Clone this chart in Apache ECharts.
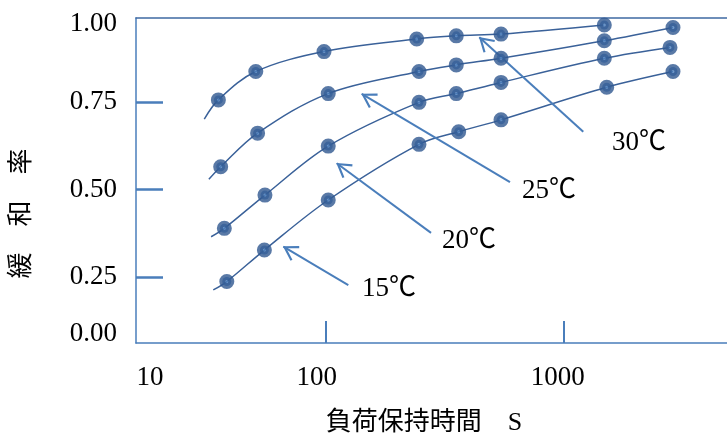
<!DOCTYPE html>
<html><head><meta charset="utf-8">
<script src="https://cdn.jsdelivr.net/npm/echarts@6/dist/echarts.min.js"></script>
<style>html,body{margin:0;padding:0;background:#fff}#c{width:727px;height:439px}</style>
</head><body><div id="c"></div>
<script>
// ---- data ----
const seriesNames = ['30℃', '25℃', '20℃', '15℃'];
const x30 = [35.3, 50.7, 98.1, 240.5, 352.7, 543.7, 1477];
const y30 = [0.756, 0.837, 0.894, 0.930, 0.939, 0.944, 0.970];
const x25 = [36.1, 51.6, 102.2, 245.9, 352.7, 543.7, 1477, 2871];
const y25 = [0.565, 0.661, 0.774, 0.837, 0.856, 0.875, 0.925, 0.963];
const x20 = [37.4, 55.4, 102.2, 245.9, 352.7, 543.7, 1477, 2789];
const y20 = [0.389, 0.484, 0.624, 0.749, 0.774, 0.806, 0.875, 0.906];
const x15 = [38.3, 55.1, 102.2, 245.9, 361.0, 543.7, 1512, 2871];
const y15 = [0.237, 0.327, 0.470, 0.629, 0.665, 0.699, 0.792, 0.837];
// where each fitted curve begins (left of first point)
const curveStartX = [30.8, 32.2, 32.9, 33.6];
const curveStartY = [0.701, 0.529, 0.365, 0.213];
// annotation arrows (tail -> tip) and label anchors, in data units
const arrowTailX = [1205, 593, 276.3, 124.1];
const arrowTailY = [0.665, 0.521, 0.376, 0.227];
const arrowTipX = [440.7, 141.3, 110.9, 66.2];
const arrowTipY = [0.935, 0.773, 0.575, 0.337];
const labelX = [1591, 666, 307.2, 141.7];
const labelY = [0.633, 0.496, 0.353, 0.217];
// axes
const xMin = 15.91, xMax = 4841;
const xTickValues = [100, 1000];
const xLabelTexts = ['10', '100', '1000'];
const xLabelAt = [18.2, 91.4, 941];
const yMin = 0.0614, yMax = 0.99;
const yTickValues = [0.25, 0.5, 0.75];
const yLabelTexts = ['0.00', '0.25', '0.50', '0.75', '1.00'];
const yLabelAt = [0.087, 0.25, 0.5, 0.75, 0.973];
const xName = '負荷保持時間　S';
const yName = '緩　和　率';

// ---- build ----
const L = v => Math.log10(v);
const xs = [x30, x25, x20, x15];
const ys = [y30, y25, y20, y15];
const serif = "'Liberation Serif', 'Noto Sans CJK JP', serif";
const cjk = "'Liberation Serif', 'Noto Sans CJK JP', sans-serif";
const axisColor = '#4a7ebb';
const lineColor = '#3a6199';
const nearestText = (v, at, texts) => {
  let best = 0;
  at.forEach((a, i) => { if (Math.abs(a - v) < Math.abs(at[best] - v)) best = i; });
  return texts[best];
};

const series = [];
seriesNames.forEach((name, k) => {
  const pts = xs[k].map((x, i) => [L(x), ys[k][i]]);
  series.push({
    type: 'line', name: name + ' curve', smooth: 0.35, showSymbol: false, silent: true,
    data: [[L(curveStartX[k]), curveStartY[k]]].concat(pts),
    lineStyle: { color: lineColor, width: 1.5 }, z: 2
  });
  series.push({
    type: 'scatter', name: name, data: pts, symbol: 'circle', symbolSize: 9,
    itemStyle: { color: '#4f81bd', borderColor: '#2f5890', borderWidth: 6 }, z: 5
  });
});
const chevron = 'path://M50 0 L100 86 L89 93 L50 25 L11 93 L0 86 Z';
series.push({
  type: 'line', name: 'annotations', data: [], silent: true,
  markLine: {
    silent: true, animation: false,
    symbol: ['none', chevron], symbolSize: [17, 15],
    symbolOffset: [[0, 0], [0, 7]],
    lineStyle: { color: axisColor, width: 2, type: 'solid' },
    label: { show: false },
    data: seriesNames.map((n, k) => [
      { coord: [L(arrowTailX[k]), arrowTailY[k]] },
      { coord: [L(arrowTipX[k]), arrowTipY[k]] }
    ])
  },
  markPoint: {
    silent: true, animation: false, symbol: 'circle', symbolSize: 0,
    label: { show: true, position: 'right', distance: 0, color: '#000', fontFamily: serif, fontSize: 27,
      formatter: p => p.name },
    data: seriesNames.map((n, k) => ({ name: n, coord: [L(labelX[k]), labelY[k]] }))
  }
});

const chart = echarts.init(document.getElementById('c'), null, { renderer: 'canvas' });
chart.setOption({
  animation: false,
  backgroundColor: '#fff',
  grid: { left: 136, right: 0, top: 18, bottom: 96, containLabel: false, outerBoundsMode: 'none' },
  xAxis: [{
    type: 'value', min: L(xMin), max: L(xMax), position: 'bottom',
    axisLine: { show: true, lineStyle: { color: axisColor, width: 1.5 } },
    axisTick: { show: true, inside: true, length: 22, customValues: xTickValues.map(L),
      lineStyle: { color: axisColor, width: 2 } },
    axisLabel: { show: true, margin: 21, color: '#000', fontFamily: serif, fontSize: 27,
      customValues: xLabelAt.map(L), formatter: v => nearestText(v, xLabelAt.map(L), xLabelTexts) },
    splitLine: { show: false },
    name: xName, nameLocation: 'middle', nameGap: 67,
    nameTextStyle: { color: '#000', fontFamily: cjk, fontSize: 26, padding: [0, 15, 0, 0] }
  }, {
    type: 'value', min: L(xMin), max: L(xMax), position: 'top',
    axisLine: { show: true, lineStyle: { color: '#3f6aa3', width: 1.5 } },
    axisTick: { show: false }, axisLabel: { show: false }, splitLine: { show: false }
  }],
  yAxis: {
    type: 'value', min: yMin, max: yMax,
    axisLine: { show: true, lineStyle: { color: axisColor, width: 1.5 } },
    axisTick: { show: true, inside: true, length: 27, customValues: yTickValues,
      lineStyle: { color: axisColor, width: 2.5 } },
    axisLabel: { show: true, margin: 19, color: '#000', fontFamily: serif, fontSize: 27,
      customValues: yLabelAt, formatter: v => nearestText(v, yLabelAt, yLabelTexts) },
    splitLine: { show: false },
    name: yName, nameLocation: 'middle', nameRotate: 90, nameGap: 101,
    nameTextStyle: { color: '#000', fontFamily: cjk, fontSize: 26, padding: [0, 66, 0, 0] }
  },
  series: series
});
</script>
</body></html>
